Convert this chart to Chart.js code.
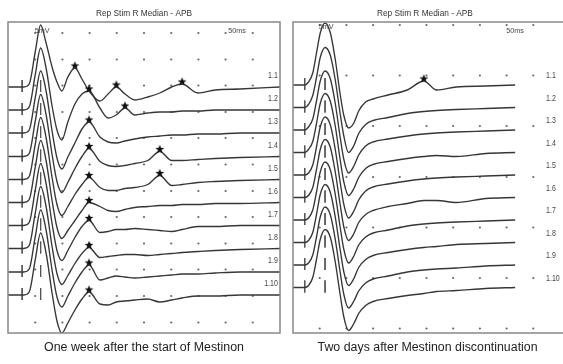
<!DOCTYPE html>
<html><head><meta charset="utf-8">
<script src="https://cdn.jsdelivr.net/npm/chart.js@4.4.1/dist/chart.umd.min.js"></script>
<style>
html,body{margin:0;padding:0;width:563px;height:364px;overflow:hidden;background:#fff;}
#wrap{position:relative;width:563px;height:364px;overflow:hidden;}
canvas{position:absolute;top:0;}
#cL{left:0;} #cR{left:286px;}
</style></head><body>
<div id="wrap"><canvas id="cL" width="286" height="364"></canvas><canvas id="cR" width="280" height="364"></canvas></div>
<script>
// ---------- DATA ----------
const panelTitle = "Rep Stim R Median - APB";
const panelCaptions = ["One week after the start of Mestinon", "Two days after Mestinon discontinuation"];
const traceLabels = ["1.1","1.2","1.3","1.4","1.5","1.6","1.7","1.8","1.9","1.10"];
const gainLabel = "5mV";
const sweepLabel = "50ms";

// left panel (one week after start), times in ms, values in mV relative to each trace baseline
const weekTimesMs = [0,2.9,3.9,5.0,6.0,7.0,8.1,9.0,9.9,11.0,12.3,13.6,14.9,16.9,18.4,19.9,21.5,23.3,25.7,27.9,30.1,32.0,34.9,38.1,42.6,50.0];
const weekTraceValues = [
 [0,0,0.6,7,12.4,8.8,4,1,-0.8,2,3.8,1.6,-0.8,-2.8,-1.4,0,-1.4,-2.6,-2,-1.2,0,0.6,-1.2,-0.6,-0.4,0],
 [0,0,0.6,7,12.4,8.4,0.8,-4,-6,-2.4,1.2,3.2,3.8,0.4,-1.6,-1,0.4,-1,-0.6,-0.4,-0.4,-0.2,-0.2,0,0,0],
 [0,0,0.6,7,12.4,8.4,0.4,-5,-7.2,-4.8,-2,0.8,2.2,-0.8,-1.8,-2,-1.6,-1.2,-0.8,-0.6,-0.4,-0.4,-0.2,-0.2,0,0],
 [0,0,0.6,7,12.4,8.4,0.4,-5,-7.2,-5.2,-2.4,0,1.6,-1,-1.8,-2,-1.8,-1.4,-0.8,1,-0.8,-0.8,-0.6,-0.4,-0.2,0],
 [0,0,0.6,7,12.4,8.4,0.4,-5,-7.2,-5.4,-3,-1,0.4,-1.6,-2.2,-2.2,-1.8,-1.6,-1,0.8,-1.2,-1,-0.6,-0.4,-0.2,0],
 [0,0,0.6,7,12.4,8.4,0.4,-5,-7.2,-5.6,-3.6,-1.6,0,-0.8,-1.6,-1.8,-1.4,-1,-0.8,-0.6,-0.6,-0.4,-0.4,-0.2,-0.2,0],
 [0,0,0.6,7,12.4,8.4,0.4,-5,-7,-5,-2.4,-0.2,1,-1.4,-1.2,-0.8,-0.8,-0.6,-0.8,-1,-1.2,-0.8,-0.2,-0.2,0,0],
 [0,0,0.6,7,12.4,8.4,0.4,-5,-7.2,-5.4,-3,-1,0.2,-1.8,-1.6,-1.4,-1.2,-1.2,-1.4,-1.2,-1,-0.8,-0.6,-0.4,-0.2,0],
 [0,0,0.6,7,12.4,8.4,0.4,-5,-7,-4.8,-2.2,0,1.4,-1.6,-1.2,-0.8,-1,-1.2,-1,-0.8,-0.6,-0.4,-0.4,-0.2,0,0],
 [0,0,0.6,7,12.4,8.4,0.4,-5.2,-7.6,-5.6,-3,-0.8,0.6,-1.8,-2,-1.4,-1.2,-1,-0.8,-1.4,-1,-0.6,-0.2,-0.2,0,0]
];
const weekBaselinesMv = [-13.0,-17.6,-22.2,-26.9,-31.5,-36.1,-40.7,-45.3,-50.0,-54.6];
const weekStarMarks = [[0,10],[0,15],[0,21],[1,12],[1,16],[2,12],[3,12],[3,19],[4,12],[4,19],[5,12],[6,12],[7,12],[8,12],[9,12]];
const weekMarkerTimesMs = [2.6, 6.0];
const weekGridRowsMv = [-2.2,-7.5,-12.7,-18.0,-23.2,-28.5,-33.8,-39.0,-44.3,-49.5,-54.8,-60.1];

// right panel (two days after discontinuation)
const offTimesMs = [0,2.2,2.9,3.7,4.4,5.1,6.0,7.0,7.9,8.8,9.5,10.4,11.4,12.3,13.6,15.0,17.8,21.4,24.5,26.9,30.6,36.1,41.6];
const offTraceValues = [
 [0,0,0.6,2.4,6.4,10.4,12.4,10.4,5.2,-1.6,-6,-8.6,-7.6,-5.2,-3.4,-2.8,-2,-1,0.8,-1,-0.4,-0.2,0],
 [0,0,0.6,2.4,6,10,12,10.4,5.6,-1,-5.6,-9,-7.6,-5.2,-3.4,-2.6,-2,-1.2,-0.8,-0.6,-0.4,-0.2,0],
 [0,0,0.6,2.2,5.8,9.8,11.8,10.2,5.4,-1.2,-5.8,-8.6,-7.2,-5,-3.2,-2.4,-1.8,-1.2,-0.8,-0.6,-0.4,-0.2,0],
 [0,0,0.6,2.2,5.8,9.8,11.8,10.2,5.4,-1.2,-5.8,-8.6,-7.2,-5,-3.2,-2.4,-1.8,-1.2,-0.8,-0.6,-0.8,-0.2,0],
 [0,0,0.4,2,5.6,9.6,11.6,10,5.2,-1.2,-5.8,-8.6,-7.2,-5,-3.2,-2.4,-1.8,-1.2,-0.8,-0.6,-0.4,-0.2,0],
 [0,0,0.4,2,5.6,9.6,11.6,10,5.2,-1.2,-5.8,-8.6,-7.2,-5,-3.4,-2.6,-1.8,-1.2,-0.6,-0.6,-1,-0.2,0],
 [0,0,0.4,2,5.6,9.6,11.6,10,5.2,-1.2,-5.8,-8.6,-7.2,-5,-3.4,-2.6,-2,-1.2,-0.8,-0.6,-0.4,-0.2,0],
 [0,0,0.4,2,5.6,9.6,11.6,10,5.2,-1.2,-5.8,-8.6,-7.2,-5,-3.4,-2.6,-2,-1.4,-1,-0.8,-0.4,-0.2,0],
 [0,0,0.4,2,5.6,9.6,11.6,10,5.2,-1.2,-5.8,-8.6,-7.2,-5.2,-3.6,-2.8,-2.2,-1.4,-1,-0.8,-0.6,-0.2,0],
 [0,0,0.4,2,5.6,9.6,11.6,10,5.2,-1.2,-5.8,-8.6,-7.2,-5.2,-3.6,-2.8,-2.2,-1.6,-1.2,-0.8,-0.6,-0.2,0]
];
const offBaselinesMv = [-12.6,-17.1,-21.6,-26.1,-30.6,-35.1,-39.6,-44.1,-48.6,-53.1];
const offStarMarks = [[0,18]];
const offMarkerTimesMs = [2.2, 6.0];
const offGridRowsMv = [-0.6,-10.7,-20.8,-31.0,-41.1,-51.2,-61.3];

const gridColsMs = [5,10,15,20,25,30,35,40,45];

// ---------- RENDER ----------
const INK = '#363636';
function starImage(){
  const c=document.createElement('canvas'); c.width=10;c.height=10;
  const g=c.getContext('2d'); g.fillStyle='#111'; g.beginPath();
  for(let i=0;i<10;i++){const r=i%2?1.9:4.6; const a=-Math.PI/2+i*Math.PI/5;
    const px=5+r*Math.cos(a), py=5.3+r*Math.sin(a); i?g.lineTo(px,py):g.moveTo(px,py);}
  g.closePath(); g.fill(); return c;
}
const STAR = starImage();

// draws text stretched/squeezed horizontally so it is `width` px wide (or scaled by factor if width<0)
function drawText(ctx, text, x, y, font, align, width, color){
  ctx.save(); ctx.font=font; ctx.fillStyle=color||'#333'; ctx.textBaseline='middle'; ctx.textAlign='left';
  const w=ctx.measureText(text).width; const tw = width>0 ? width : w*(-width); const s=tw/w;
  let x0 = align==='center' ? x-tw/2 : align==='right' ? x-tw : x;
  ctx.translate(x0,y); ctx.scale(s,1); ctx.fillText(text,0,0); ctx.restore();
}

function makePanel(canvas, p){
  const datasets=[];
  p.values.forEach((vals,i)=>{
    datasets.push({type:'line', data:p.times.map((t,k)=>({x:t,y:p.base[i]+vals[k]})),
      borderColor:INK, borderWidth:1.35, pointRadius:0, cubicInterpolationMode:'monotone', fill:false, order:10});
  });
  const ticks=[];
  p.base.forEach(b=>p.markers.forEach(t=>{ticks.push({x:t,y:b+1.4},{x:t,y:b-1.0},{x:t,y:null});}));
  datasets.push({type:'line', data:ticks, borderColor:'#555', borderWidth:1, pointRadius:0, spanGaps:false, tension:0, order:11});
  const stars=p.stars.map(([i,k])=>({x:p.times[k], y:p.base[i]+p.values[i][k]+0.5}));
  datasets.push({type:'scatter', data:stars, pointStyle:STAR, pointRadius:5, order:0, clip:false});
  const dots=[]; gridColsMs.forEach(x=>p.rows.forEach(y=>dots.push({x,y})));
  datasets.push({type:'scatter', data:dots, pointRadius:1.1, pointBorderWidth:0, pointBackgroundColor:'#666', order:30});

  const textPlugin={id:'txt', afterDraw(chart){
    const ctx=chart.ctx, a=chart.chartArea, xs=chart.scales.x, ys=chart.scales.y;
    ctx.save(); ctx.strokeStyle='#888'; ctx.lineWidth=1.5; ctx.beginPath();
    if(p.openRight){
      ctx.moveTo(chart.width,a.top); ctx.lineTo(a.left,a.top); ctx.lineTo(a.left,a.bottom); ctx.lineTo(chart.width,a.bottom);
    } else {
      ctx.rect(a.left,a.top,a.right-a.left,a.bottom-a.top);
    }
    ctx.stroke(); ctx.restore();
    const cx=xs.getPixelForValue(p.centerMs);
    drawText(ctx, panelTitle, cx, a.top-8, '8.5px "Liberation Sans", Arial, sans-serif','center',96,'#333');
    drawText(ctx, p.caption, xs.getPixelForValue(p.captionMs), a.bottom+15, '12.5px "Liberation Sans", Arial, sans-serif','center',p.captionW,'#222');
    drawText(ctx, gainLabel, xs.getPixelForValue(p.gainPos[0]), ys.getPixelForValue(p.gainPos[1]), '8px "Liberation Sans", Arial, sans-serif','center',-0.9,'#444');
    drawText(ctx, sweepLabel, xs.getPixelForValue(p.sweepPos[0]), ys.getPixelForValue(p.sweepPos[1]), '8px "Liberation Sans", Arial, sans-serif','center',-0.9,'#444');
    traceLabels.forEach((l,i)=>{
      drawText(ctx, l, xs.getPixelForValue(p.labelMs), ys.getPixelForValue(p.base[i]+p.labelLift), '9px "Liberation Sans", Arial, sans-serif', p.labelAlign, -0.78,'#444');
    });
  }};

  return new Chart(canvas,{type:'line', data:{datasets},
    options:{responsive:false, animation:false, devicePixelRatio:1, events:[],
      layout:{padding:p.pad},
      plugins:{legend:{display:false}, tooltip:{enabled:false}, title:{display:false}},
      scales:{x:{type:'linear',min:0,max:50,display:false}, y:{type:'linear',min:-62.2,max:0,display:false}}},
    plugins:[textPlugin]});
}

makePanel(document.getElementById('cL'),{times:weekTimesMs, values:weekTraceValues, base:weekBaselinesMv, stars:weekStarMarks,
  markers:weekMarkerTimesMs, rows:weekGridRowsMv, caption:panelCaptions[0], centerMs:25, captionMs:25, captionW:200,
  gainPos:[6.3,-1.8], sweepPos:[42.1,-1.8], openRight:false,
  labelMs:49.6, labelLift:2.2, labelAlign:'right', pad:{left:8,right:6,top:22,bottom:31}});
makePanel(document.getElementById('cR'),{times:offTimesMs, values:offTraceValues, base:offBaselinesMv, stars:offStarMarks,
  markers:offMarkerTimesMs, rows:offGridRowsMv, caption:panelCaptions[1], centerMs:24.7, captionMs:25.2, captionW:220,
  gainPos:[6.2,-1.0], sweepPos:[41.6,-1.8], openRight:true,
  labelMs:47.4, labelLift:1.8, labelAlign:'left', pad:{left:7,right:0,top:22,bottom:31}});
</script></body></html>
